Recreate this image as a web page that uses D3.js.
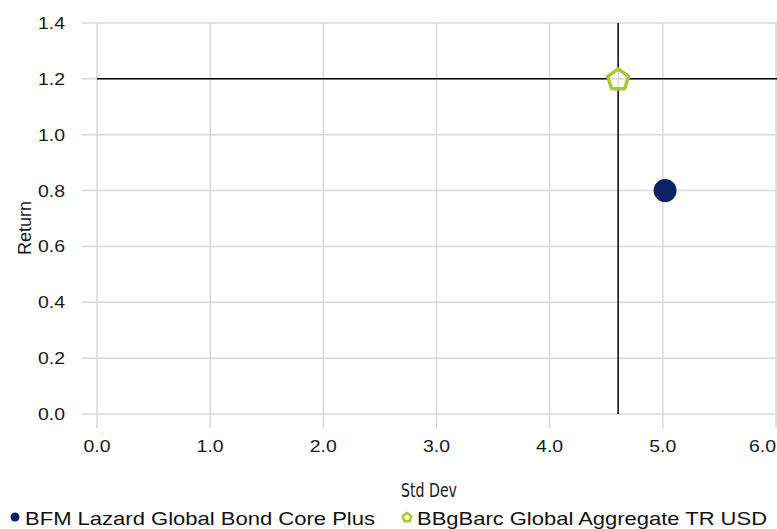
<!DOCTYPE html>
<html><head><meta charset="utf-8">
<script src="https://cdn.jsdelivr.net/npm/d3@7/dist/d3.min.js"></script>
<style>body{margin:0;background:#fff}svg{display:block}</style>
</head><body>
<script>
const seriesNames = ["BFM Lazard Global Bond Core Plus", "BBgBarc Global Aggregate TR USD"];
const stdDev = [5.02, 4.605];
const returns = [0.80, 1.20];
const xTicks = [0, 1, 2, 3, 4, 5, 6];
const yTicks = [0, 0.2, 0.4, 0.6, 0.8, 1.0, 1.2, 1.4];
const crossX = 4.605, crossY = 1.20;

const W = 777, H = 529;
const svg = d3.select("body").append("svg").attr("width", W).attr("height", H);
const x = d3.scaleLinear().domain([0, 6]).range([97, 776]);
const y = d3.scaleLinear().domain([0, 1.4]).range([414, 23]);
const font = "Liberation Sans, Arial, sans-serif";
const grid = "#d9d9d9";
const stretch = 1.18;

function widen(sel, k) {
  sel.each(function () {
    const w = this.getComputedTextLength();
    d3.select(this).attr("textLength", w * k).attr("lengthAdjust", "spacingAndGlyphs");
  });
}

// grid lines with tick extensions
svg.append("g").selectAll("line").data(yTicks).join("line")
  .attr("x1", 82).attr("x2", 777).attr("y1", d => y(d)).attr("y2", d => y(d))
  .attr("stroke", grid).attr("stroke-width", 1.5);
svg.append("g").selectAll("line").data(xTicks).join("line")
  .attr("x1", d => x(d)).attr("x2", d => x(d)).attr("y1", 23).attr("y2", 428)
  .attr("stroke", grid).attr("stroke-width", 1.5);

// tick labels
svg.append("g").selectAll("text").data(yTicks).join("text")
  .attr("x", 65).attr("y", d => y(d)).attr("dy", "0.36em").attr("text-anchor", "end")
  .attr("font-family", font).attr("font-size", 16.5).attr("fill", "#1a1a1a")
  .text(d => d.toFixed(1)).call(widen, stretch);
svg.append("g").selectAll("text").data(xTicks).join("text")
  .attr("x", (d, i) => i === xTicks.length - 1 ? 776 : x(d)).attr("y", 446).attr("dy", "0.36em")
  .attr("text-anchor", (d, i) => i === xTicks.length - 1 ? "end" : "middle")
  .attr("font-family", font).attr("font-size", 16.5).attr("fill", "#1a1a1a")
  .text(d => d.toFixed(1)).call(widen, stretch);

// crosshair lines
svg.append("line").attr("x1", x(0)).attr("x2", 777).attr("y1", y(crossY)).attr("y2", y(crossY))
  .attr("stroke", "#000").attr("stroke-width", 1.5);
svg.append("line").attr("x1", x(crossX)).attr("x2", x(crossX)).attr("y1", y(1.4)).attr("y2", y(0))
  .attr("stroke", "#000").attr("stroke-width", 1.5);

// axis titles
svg.append("text").attr("transform", "translate(31,228) rotate(-90)").attr("text-anchor", "middle")
  .attr("font-family", font).attr("font-size", 18).attr("fill", "#1a1a1a").text("Return");
svg.append("text").attr("x", 429).attr("y", 497)
  .attr("text-anchor", "middle")
  .attr("font-family", "Liberation Sans Narrow, DejaVu Sans Condensed, sans-serif")
  .attr("font-size", 20).attr("fill", "#1a1a1a").text("Std Dev")
  .attr("textLength", 56).attr("lengthAdjust", "spacingAndGlyphs");

function pentagon(cx, cy, r) {
  const pts = d3.range(5).map(i => {
    const a = -Math.PI / 2 + i * 2 * Math.PI / 5;
    return [cx + r * Math.cos(a), cy + r * Math.sin(a)];
  });
  return "M" + pts.map(p => p.join(",")).join("L") + "Z";
}

// points
svg.append("circle").attr("cx", x(stdDev[0])).attr("cy", y(returns[0])).attr("r", 11.5)
  .attr("fill", "#0b2265");
svg.append("path").attr("d", pentagon(x(stdDev[1]), y(returns[1]) + 1, 11))
  .attr("fill", "#fff").attr("fill-opacity", 0.85)
  .attr("stroke", "#a6c938").attr("stroke-width", 3.5).attr("stroke-linejoin", "round");

// legend
svg.append("circle").attr("cx", 15).attr("cy", 517).attr("r", 4.5).attr("fill", "#0b2265");
svg.append("text").attr("x", 25).attr("y", 525)
  .attr("font-family", font).attr("font-size", 18.5).attr("fill", "#111").text(seriesNames[0])
  .attr("textLength", 350).attr("lengthAdjust", "spacingAndGlyphs");
svg.append("path").attr("d", pentagon(407, 517.5, 4.5))
  .attr("fill", "#fff").attr("stroke", "#a6c938").attr("stroke-width", 2.5);
svg.append("text").attr("x", 417).attr("y", 525)
  .attr("font-family", font).attr("font-size", 18.5).attr("fill", "#111").text(seriesNames[1])
  .attr("textLength", 350).attr("lengthAdjust", "spacingAndGlyphs");
</script>
</body></html>
